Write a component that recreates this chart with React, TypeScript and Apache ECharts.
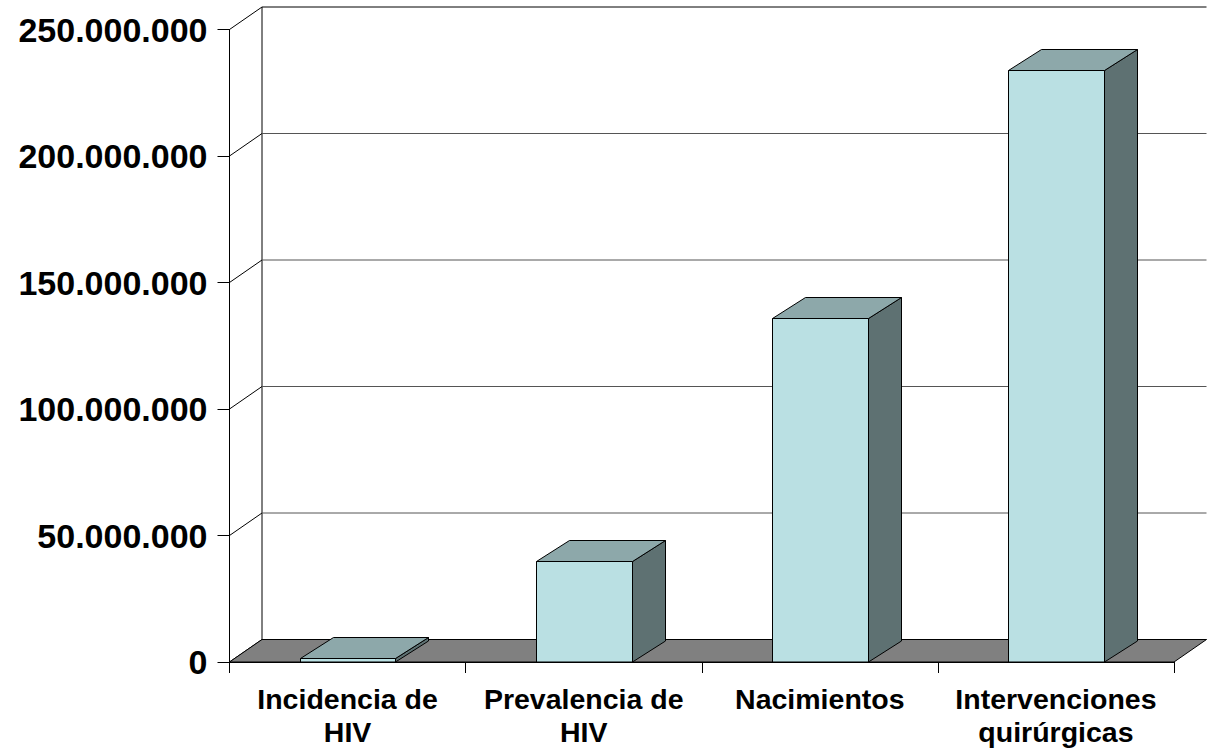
import React, { useEffect, useRef } from "react";
import * as echarts from "echarts";

const categories = ["Incidencia de\nHIV", "Prevalencia de\nHIV", "Nacimientos", "Intervenciones\nquirúrgicas"];
const values = [1500000, 40000000, 136000000, 234000000];
const yTicks = [0, 50000000, 100000000, 150000000, 200000000, 250000000];

const WALL_DX = 32.5;
const WALL_DY = -22.5;
const BAR_DX = 33;
const BAR_DY = -21;
const FONT = "'Liberation Sans', Arial, Helvetica, sans-serif";

const fmt = (v: number) => String(v).replace(/\B(?=(\d{3})+(?!\d))/g, ".");

export default function App() {
  const ref = useRef<HTMLDivElement>(null);
  useEffect(() => {
    const chart = echarts.init(ref.current!, null, { renderer: "svg" });
    const yMax = yTicks[yTicks.length - 1];
    chart.setOption({
      animation: false,
      grid: { left: 229.5, right: 33, top: 29.5, bottom: 81.5, containLabel: false },
      xAxis: {
        type: "category",
        data: categories,
        boundaryGap: true,
        axisLine: { show: true, lineStyle: { color: "#000", width: 1 } },
        axisTick: { show: true, length: 11, interval: 0, lineStyle: { color: "#000", width: 1 } },
        axisLabel: {
          interval: 0,
          margin: 20,
          color: "#000",
          fontFamily: FONT,
          fontWeight: "bold",
          fontSize: 28.5,
          lineHeight: 33,
          align: "center",
        },
        splitLine: { show: false },
        z: 5,
      },
      yAxis: {
        type: "value",
        min: 0,
        max: yMax,
        interval: 50000000,
        axisLine: { show: true, lineStyle: { color: "#000", width: 1 } },
        axisTick: { show: true, length: 12, lineStyle: { color: "#000", width: 1 } },
        axisLabel: {
          margin: 22,
          color: "#000",
          fontFamily: FONT,
          fontWeight: "bold",
          fontSize: 34,
          formatter: (v: number) => fmt(v),
        },
        splitLine: { show: false },
      },
      series: [
        {
          type: "custom",
          name: "walls",
          z: 1,
          silent: true,
          clip: false,
          data: yTicks.map((v) => [0, v]),
          renderItem: (params: any, api: any) => {
            const cs = params.coordSys;
            const v = api.value(1);
            const y = api.coord([0, v])[1];
            const x0 = cs.x;
            const x1 = cs.x + cs.width;
            const isTop = v === yMax;
            const children: any[] = [
              {
                type: "line",
                shape: { x1: x0, y1: y, x2: x0 + WALL_DX, y2: y + WALL_DY },
                style: { stroke: "#000", lineWidth: 1 },
              },
              {
                type: "line",
                shape: { x1: x0 + WALL_DX, y1: y + WALL_DY, x2: x1 + WALL_DX, y2: y + WALL_DY },
                style: { stroke: isTop ? "#000" : "#555", lineWidth: 1 },
              },
            ];
            if (params.dataIndex === 0) {
              const yTop = api.coord([0, yMax])[1];
              children.push({
                type: "line",
                shape: { x1: x0 + WALL_DX, y1: yTop + WALL_DY, x2: x0 + WALL_DX, y2: y + WALL_DY },
                style: { stroke: "#000", lineWidth: 1 },
              });
            }
            return { type: "group", children };
          },
        },
        {
          type: "custom",
          name: "floor",
          z: 2,
          silent: true,
          clip: false,
          data: [[0, 0]],
          renderItem: (params: any, api: any) => {
            const cs = params.coordSys;
            const y = api.coord([0, api.value(1)])[1];
            const x0 = cs.x;
            const x1 = cs.x + cs.width;
            return {
              type: "polygon",
              shape: {
                points: [
                  [x0, y],
                  [x1, y],
                  [x1 + WALL_DX, y + WALL_DY],
                  [x0 + WALL_DX, y + WALL_DY],
                ],
              },
              style: { fill: "#808080", stroke: "#000", lineWidth: 1 },
            };
          },
        },
        {
          type: "custom",
          name: "bars",
          z: 3,
          clip: false,
          data: values.map((v, i) => [i, v]),
          renderItem: (params: any, api: any) => {
            const idx = api.value(0);
            const v = api.value(1);
            const [cx, yTop] = api.coord([idx, v]);
            const yBase = api.coord([idx, 0])[1];
            const band = api.size([1, 0])[0];
            const w = band * 0.406;
            const xl = Math.round(cx - w / 2) + 0.5;
            const xr = Math.round(cx + w / 2) + 0.5;
            const yt = Math.round(yTop) + 0.5;
            const yb = yBase;
            return {
              type: "group",
              children: [
                {
                  type: "polygon",
                  shape: {
                    points: [
                      [xr, yt],
                      [xr + BAR_DX, yt + BAR_DY],
                      [xr + BAR_DX, yb + BAR_DY],
                      [xr, yb],
                    ],
                  },
                  style: { fill: "#5E7172", stroke: "#000", lineWidth: 1 },
                },
                {
                  type: "polygon",
                  shape: {
                    points: [
                      [xl, yt],
                      [xr, yt],
                      [xr + BAR_DX, yt + BAR_DY],
                      [xl + BAR_DX, yt + BAR_DY],
                    ],
                  },
                  style: { fill: "#8DA8AA", stroke: "#000", lineWidth: 1 },
                },
                {
                  type: "rect",
                  shape: { x: xl, y: yt, width: xr - xl, height: yb - yt },
                  style: { fill: "#BAE0E3", stroke: "#000", lineWidth: 1 },
                },
              ],
            };
          },
        },
      ],
    });
    return () => chart.dispose();
  }, []);
  return (
    <div
      ref={ref}
      style={{ position: "absolute", left: 0, top: 0, width: 1207, height: 748, background: "#fff" }}
    />
  );
}
